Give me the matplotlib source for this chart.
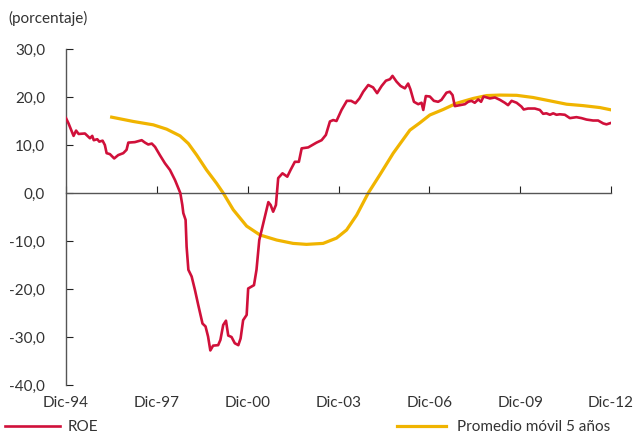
import matplotlib
matplotlib.use("Agg")
import matplotlib.pyplot as plt
from matplotlib.ticker import FuncFormatter

plt.rcParams['font.family'] = ['Lato', 'DejaVu Sans']

# months counted from Dic-94
roe_months = [0, 1, 3, 4, 5, 7.5, 9.5, 10.4, 11, 12.4, 13.2, 14.5, 15.4, 16.1, 17.4, 19.1,
              20.7, 22.7, 24, 24.7, 27.3, 30, 31.3, 32.6, 34, 35.3, 37.2, 39.2, 41.2, 43.2,
              44.5, 45.3, 46.1, 46.5, 47.4, 47.8, 48.5, 49.8, 51.1, 52.4, 54.1, 55.3, 56.3,
              57.2, 58.3, 60.3, 61.2, 62.3, 63.4, 64.3, 65.6, 66.9, 68.3, 69.2, 70.2, 71.6,
              72.2, 74.5, 75.5, 76.6, 78.2, 80.2, 81.1, 82.1, 83.2, 84.1, 85.8, 87.7, 89,
              90.7, 92.3, 93.4, 96, 99.3, 101.3, 103, 104.6, 105.9, 107.2, 109.2, 111.3, 113,
              114.7, 116.3, 117.8, 119.8, 121.7, 123.3, 125.1, 126.8, 128.4, 129.4, 131,
              132.6, 134.3, 135.6, 136.5, 137.9, 139.6, 140.9, 141.6, 142.6, 144.2, 145.8,
              147.5, 148.8, 150.8, 152.1, 153.2, 154.1, 156.1, 158.1, 159.4, 160.7, 162,
              163.4, 164.5, 165.5, 168, 170, 172, 173.9, 175.2, 176.6, 178.6, 180.5, 181.4,
              183.1, 185.8, 187.8, 189.1, 190.4, 191.8, 193.1, 194.4, 195.7, 197.7, 199.7,
              202.3, 204.3, 206.3, 208.9, 210.9, 212.9, 214.2, 216]
roe = [15.6, 14.5, 11.9, 13.0, 12.3, 12.4, 11.4, 11.9, 11.0, 11.2, 10.7, 10.9, 10.0, 8.3,
       8.1, 7.2, 7.9, 8.3, 9.0, 10.5, 10.6, 11.0, 10.5, 10.1, 10.3, 9.6, 7.9, 6.2, 4.8, 2.7,
       1.0, 0.0, -2.5, -4.2, -5.6, -11.2, -16.0, -17.4, -20.2, -23.3, -27.2, -27.8, -29.9,
       -32.8, -31.8, -31.7, -30.6, -27.5, -26.6, -29.7, -30.0, -31.3, -31.7, -30.3, -26.5,
       -25.4, -19.9, -19.2, -16.0, -9.8, -6.3, -1.9, -2.5, -3.9, -2.5, 3.1, 4.1, 3.4, 4.8,
       6.5, 6.5, 9.3, 9.5, 10.5, 11.0, 12.1, 14.9, 15.2, 15.0, 17.3, 19.2, 19.2, 18.7,
       19.7, 21.1, 22.5, 22.0, 20.8, 22.3, 23.4, 23.7, 24.4, 23.2, 22.3, 21.8, 22.8, 21.6,
       19.0, 18.5, 18.8, 17.3, 20.2, 20.1, 19.2, 19.0, 19.4, 20.9, 21.1, 20.4, 18.1, 18.3,
       18.5, 19.0, 19.2, 18.8, 19.5, 19.0, 20.1, 19.7, 19.9, 19.4, 18.8, 18.3, 19.2, 18.8,
       18.0, 17.4, 17.6, 17.6, 17.3, 16.5, 16.6, 16.3, 16.6, 16.3, 16.4, 16.3, 15.6, 15.8,
       15.6, 15.3, 15.1, 15.1, 14.5, 14.3, 14.6]

ma_months = [18.1, 26.7, 34.6, 39.9, 45.2, 48.5, 51.8, 55.7, 59.7, 62.3, 66.3, 71.6, 76.9,
             83.5, 90, 95.3, 101.9, 107.2, 111.2, 115.2, 119.8, 124.4, 129.7, 136.3, 140.2,
             144.2, 149.5, 154.8, 161.4, 166.7, 172, 178.6, 185.1, 191.8, 198.4, 205, 211.6,
             216.2]
ma = [15.8, 14.9, 14.2, 13.3, 11.9, 10.3, 7.9, 4.8, 2.0, 0.0, -3.5, -6.9, -8.75, -9.8,
      -10.5, -10.7, -10.5, -9.4, -7.7, -4.6, 0.0, 3.8, 8.3, 13.1, 14.6, 16.25, 17.4, 18.7,
      19.7, 20.3, 20.4, 20.35, 19.9, 19.2, 18.5, 18.2, 17.8, 17.3]

tick_months = [0, 36, 72, 108, 144, 180, 216]
tick_labels = ["Dic-94", "Dic-97", "Dic-00", "Dic-03", "Dic-06", "Dic-09", "Dic-12"]

text_color = "#333333"
axis_color = "#555555"

fig = plt.figure(figsize=(6.39, 4.36), dpi=100)
ax = fig.add_axes([66 / 639, 1 - 385 / 436, (611 - 66) / 639, (385 - 49) / 436])

l1, = ax.plot(roe_months, roe, color="#D0103A", lw=1.9, label="ROE", zorder=3)
l2, = ax.plot(ma_months, ma, color="#F0B400", lw=2.3, label="Promedio móvil 5 años", zorder=2)

ax.set_xlim(0, 216)
ax.set_ylim(-40, 30)

for s in ["top", "right"]:
    ax.spines[s].set_visible(False)
ax.spines["bottom"].set_position(("data", 0))
ax.spines["bottom"].set_color(axis_color)
ax.spines["left"].set_color(axis_color)
ax.spines["bottom"].set_linewidth(1.0)
ax.spines["left"].set_linewidth(1.0)

ax.set_xticks(tick_months)
ax.tick_params(axis="x", direction="in", length=5, color="#222222", labelbottom=False)
ax.set_yticks(range(-40, 31, 10))
ax.yaxis.set_major_formatter(FuncFormatter(lambda v, p: ("%.1f" % v).replace(".", ",")))
ax.tick_params(axis="y", direction="in", length=5, color="#222222", pad=15,
               labelsize=11, labelcolor=text_color)

sec = ax.secondary_xaxis("bottom")
sec.set_xticks(tick_months)
sec.set_xticklabels(tick_labels)
sec.spines["bottom"].set_visible(False)
sec.tick_params(length=0, pad=8, labelsize=11, labelcolor=text_color)

fig.text(8 / 639, 1 - 18 / 436, "(porcentaje)", fontsize=11, color=text_color,
         va="center", ha="left")

fig.legend(handles=[l1], loc="center left", bbox_to_anchor=(5 / 639, 1 - 427 / 436),
           frameon=False, borderpad=0, borderaxespad=0, handlelength=3.6,
           handletextpad=0.5, fontsize=11, labelcolor=text_color)
fig.legend(handles=[l2], loc="center left", bbox_to_anchor=(397 / 639, 1 - 427 / 436),
           frameon=False, borderpad=0, borderaxespad=0, handlelength=3.2,
           handletextpad=0.7, fontsize=11, labelcolor=text_color)

fig.savefig("out.png", dpi=100)
